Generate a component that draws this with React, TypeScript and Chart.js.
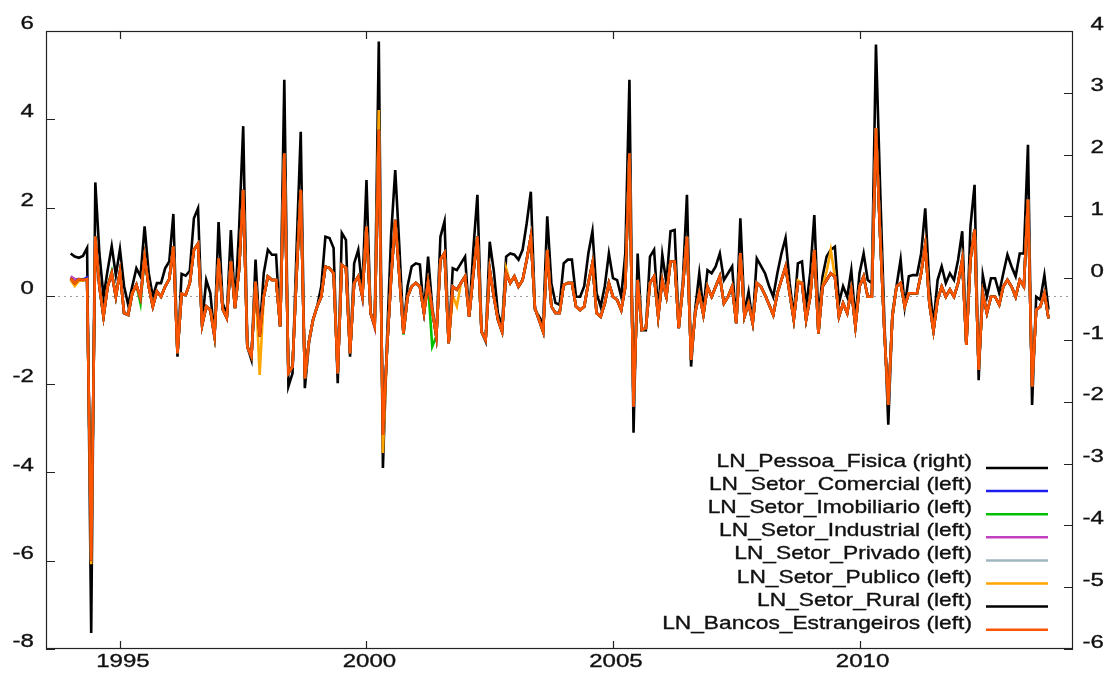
import React, { useEffect, useRef } from "react";
import { Chart, registerables } from "chart.js";

Chart.register(...registerables);

// ---- time axis: monthly observations starting Jan 1994 ----
const START_YEAR = 1994;
const X_MIN = 1993.5;
const X_MAX = 2014.33;

// ---- tick labels ----
const xTicks = [1995, 2000, 2005, 2010];
const leftTicks = [6, 4, 2, 0, -2, -4, -6, -8];
const rightTicks = [4, 3, 2, 1, 0, -1, -2, -3, -4, -5, -6];

// ---- series (one value per month, 1994-01 .. 2013-11) ----
const pessoaFisica = [
  0.40, 0.35, 0.33, 0.36, 0.49, -5.74, 1.55, 0.40, -0.30, 0.13, 0.52, 0.05,
  0.47, -0.13, -0.43, -0.13, 0.16, 0.03, 0.84, 0.08, -0.30, -0.08, -0.08, 0.16,
  0.27, 1.04, -1.27, 0.07, 0.04, 0.12, 0.97, 1.13, -0.73, -0.03, -0.24, -0.94,
  0.91, -0.40, -0.60, 0.78, -0.46, 0.80, 2.46, -1.11, -1.32, 0.30, -0.89, 0.08,
  0.46, 0.38, 0.38, -0.78, 3.21, -1.75, -1.54, 0.50, 2.37, -1.78, -1.05, -0.67,
  -0.46, -0.13, 0.67, 0.65, 0.49, -1.70, 0.73, 0.62, -1.27, 0.24, 0.46, -0.19,
  1.59, -0.57, -0.73, 3.83, -3.07, -1.00, 0.70, 1.75, 0.51, -0.84, -0.13, 0.19,
  0.24, 0.22, -0.57, 0.35, -0.46, -0.94, 0.67, 0.92, -1.05, 0.16, 0.13, 0.24,
  0.35, -0.62, 0.46, 1.35, -0.86, -1.02, 0.59, 0.11, -0.57, -0.78, 0.35, 0.40,
  0.38, 0.30, 0.46, 0.89, 1.40, -0.51, -0.62, -0.73, 1.00, -0.08, -0.40, -0.43,
  0.24, 0.30, 0.30, -0.30, -0.30, -0.13, 0.40, 0.76, -0.24, -0.46, -0.13, 0.40,
  0.00, -0.03, -0.30, 0.40, 3.21, -2.50, 0.40, -0.84, -0.84, 0.35, 0.46, -0.57,
  0.38, -0.08, 0.76, 0.78, -0.78, -0.05, 1.35, -1.43, -0.51, 0.08, -0.51, 0.13,
  0.08, 0.19, 0.40, -0.03, 0.08, 0.19, -0.73, 0.97, -0.57, -0.22, -0.73, 0.32,
  0.20, 0.08, -0.13, -0.30, 0.08, 0.40, 0.65, -0.08, -0.62, 0.24, 0.27, -0.46,
  0.08, 1.02, -0.67, 0.03, 0.35, 0.46, 0.51, -0.40, -0.13, -0.30, 0.13, -0.67,
  0.08, 0.40, -0.03, -0.08, 3.78, 1.50, -0.60, -2.37, -0.57, -0.13, 0.30, -0.46,
  0.03, 0.05, 0.05, 0.40, 1.13, -0.13, -0.75, -0.03, 0.19, -0.08, 0.08, -0.03,
  0.30, 0.76, -1.08, 0.84, 1.51, -1.65, 0.05, -0.30, 0.00, 0.00, -0.24, 0.08,
  0.38, 0.19, 0.03, 0.40, 0.40, 2.16, -2.05, -0.30, -0.35, 0.05, -0.51,
];

const setorComercial = [
  0.42, 0.36, 0.38, 0.37, 0.42, -6.00, 1.34, 0.21, -0.47, 0.21, 0.51, -0.02,
  0.55, -0.39, -0.43, 0.06, 0.25, -0.05, 0.89, 0.21, -0.24, 0.10, -0.02, 0.21,
  0.38, 1.12, -1.30, 0.05, 0.02, 0.29, 1.04, 1.18, -0.66, -0.24, -0.32, -0.91,
  0.85, -0.30, -0.50, 0.78, -0.28, 0.60, 2.40, -1.15, -1.37, 0.32, -0.92, -0.02,
  0.44, 0.36, 0.36, -0.69, 3.23, -1.75, -1.60, 0.50, 2.40, -1.87, -1.03, -0.54,
  -0.24, -0.02, 0.66, 0.63, 0.51, -1.75, 0.70, 0.63, -1.30, 0.29, 0.44, -0.02,
  1.57, -0.39, -0.69, 3.76, -3.15, -1.20, 0.40, 1.72, 0.45, -0.85, -0.02, 0.21,
  0.29, 0.21, -0.39, 0.32, -0.32, -0.92, 0.82, 0.97, -1.07, 0.21, 0.14, 0.29,
  0.44, -0.47, 0.50, 1.34, -0.81, -1.00, 0.59, -0.02, -0.54, -0.81, 0.51, 0.29,
  0.44, 0.21, 0.36, 0.82, 1.34, -0.28, -0.54, -0.81, 1.04, -0.24, -0.39, -0.39,
  0.25, 0.29, 0.29, -0.24, -0.32, -0.24, 0.29, 0.74, -0.39, -0.47, -0.17, 0.29,
  -0.02, -0.09, -0.32, 0.21, 3.23, -2.51, 0.36, -0.77, -0.73, 0.29, 0.44, -0.47,
  0.36, -0.02, 0.78, 0.78, -0.73, 0.21, 1.34, -1.45, -0.39, 0.06, -0.43, 0.21,
  -0.02, 0.21, 0.44, -0.17, -0.02, 0.21, -0.62, 0.97, -0.47, -0.17, -0.62, 0.29,
  0.21, 0.02, -0.20, -0.43, 0.06, 0.36, 0.66, 0.06, -0.54, 0.29, 0.29, -0.54,
  -0.02, 1.04, -0.85, 0.21, 0.36, 0.51, 0.44, -0.47, -0.17, -0.39, 0.14, -0.69,
  0.21, 0.44, -0.02, -0.02, 3.80, 1.40, -0.70, -2.47, -0.47, 0.21, 0.29, -0.24,
  0.06, 0.06, 0.06, 0.51, 1.16, -0.17, -0.79, -0.09, 0.21, -0.02, 0.14, -0.02,
  0.29, 0.82, -1.11, 0.82, 1.50, -1.68, 0.06, -0.39, -0.02, -0.02, -0.20, 0.21,
  0.36, 0.21, -0.02, 0.36, 0.21, 2.18, -2.05, -0.32, -0.24, 0.06, -0.51,
];

const setorImobiliario = [
  0.38, 0.33, 0.37, 0.36, 0.36, -6.00, 1.34, 0.21, -0.47, 0.21, 0.55, -0.02,
  0.55, -0.39, -0.43, 0.06, 0.25, -0.17, 0.89, 0.21, -0.24, 0.10, -0.02, 0.21,
  0.38, 1.12, -1.30, 0.05, 0.02, 0.29, 1.04, 1.18, -0.66, -0.24, -0.32, -0.91,
  0.85, -0.30, -0.50, 0.78, -0.28, 0.60, 2.40, -1.15, -1.37, 0.32, -0.92, -0.02,
  0.44, 0.36, 0.36, -0.69, 3.23, -1.75, -1.60, 0.50, 2.40, -1.87, -1.03, -0.54,
  -0.24, -0.02, 0.66, 0.63, 0.51, -1.75, 0.70, 0.63, -1.30, 0.29, 0.44, -0.02,
  1.57, -0.39, -0.69, 3.76, -3.15, -1.20, 0.40, 1.72, 0.45, -0.88, -0.02, 0.21,
  0.29, 0.21, -0.39, 0.25, -1.15, -0.92, 0.82, 0.97, -1.07, 0.21, 0.14, 0.29,
  0.44, -0.47, 0.50, 1.34, -0.81, -1.00, 0.59, -0.02, -0.54, -0.81, 0.51, 0.29,
  0.44, 0.21, 0.36, 0.82, 1.34, -0.28, -0.54, -0.81, 1.04, -0.24, -0.39, -0.39,
  0.25, 0.29, 0.29, -0.24, -0.32, -0.24, 0.29, 0.74, -0.39, -0.47, -0.17, 0.29,
  -0.02, -0.09, -0.32, 0.21, 3.23, -2.51, 0.36, -0.77, -0.73, 0.29, 0.44, -0.47,
  0.36, -0.02, 0.78, 0.78, -0.73, 0.21, 1.34, -1.45, -0.39, 0.06, -0.43, 0.21,
  -0.02, 0.21, 0.44, -0.17, -0.02, 0.21, -0.62, 0.97, -0.47, -0.17, -0.62, 0.29,
  0.21, 0.02, -0.20, -0.43, 0.06, 0.36, 0.66, 0.06, -0.54, 0.29, 0.29, -0.54,
  -0.02, 1.04, -0.85, 0.21, 0.36, 0.51, 0.44, -0.47, -0.17, -0.39, 0.14, -0.69,
  0.21, 0.44, -0.02, -0.02, 3.80, 1.40, -0.70, -2.47, -0.47, 0.21, 0.29, -0.24,
  0.06, 0.06, 0.06, 0.51, 1.16, -0.17, -0.79, -0.09, 0.21, -0.02, 0.14, -0.02,
  0.29, 0.82, -1.11, 0.82, 1.50, -1.68, 0.06, -0.39, -0.02, -0.02, -0.20, 0.21,
  0.36, 0.21, -0.02, 0.36, 0.21, 2.18, -2.05, -0.32, -0.24, 0.06, -0.51,
];

const setorIndustrial = [
  0.44, 0.38, 0.36, 0.35, 0.37, -6.00, 1.34, 0.21, -0.47, 0.21, 0.51, -0.02,
  0.55, -0.39, -0.43, 0.06, 0.25, -0.05, 0.89, 0.21, -0.24, 0.10, -0.02, 0.21,
  0.38, 1.12, -1.30, 0.05, 0.02, 0.29, 1.04, 1.18, -0.66, -0.24, -0.32, -0.95,
  0.85, -0.30, -0.50, 0.78, -0.28, 0.60, 2.40, -1.15, -1.37, 0.32, -0.92, -0.02,
  0.44, 0.36, 0.36, -0.69, 3.23, -1.75, -1.60, 0.50, 2.40, -1.87, -1.03, -0.54,
  -0.24, -0.02, 0.66, 0.63, 0.51, -1.75, 0.70, 0.63, -1.30, 0.29, 0.44, -0.05,
  1.57, -0.39, -0.72, 3.76, -3.15, -1.20, 0.40, 1.72, 0.45, -0.85, -0.02, 0.21,
  0.29, 0.21, -0.39, 0.32, -0.32, -0.92, 0.82, 0.97, -1.07, 0.21, 0.14, 0.29,
  0.44, -0.47, 0.50, 1.34, -0.81, -1.00, 0.59, -0.02, -0.54, -0.81, 0.51, 0.29,
  0.44, 0.21, 0.36, 0.82, 1.34, -0.28, -0.54, -0.81, 1.04, -0.24, -0.39, -0.39,
  0.25, 0.29, 0.29, -0.24, -0.32, -0.24, 0.29, 0.74, -0.39, -0.47, -0.17, 0.29,
  -0.02, -0.09, -0.32, 0.21, 3.23, -2.51, 0.36, -0.77, -0.73, 0.29, 0.44, -0.47,
  0.36, -0.02, 0.78, 0.78, -0.73, 0.21, 1.34, -1.45, -0.39, 0.06, -0.43, 0.21,
  -0.02, 0.21, 0.44, -0.17, -0.02, 0.21, -0.62, 0.97, -0.47, -0.17, -0.62, 0.29,
  0.21, 0.02, -0.20, -0.43, 0.06, 0.36, 0.66, 0.06, -0.54, 0.29, 0.29, -0.54,
  -0.02, 1.04, -0.85, 0.21, 0.36, 0.51, 0.44, -0.47, -0.17, -0.39, 0.14, -0.69,
  0.21, 0.44, -0.02, -0.02, 3.80, 1.40, -0.70, -2.47, -0.47, 0.21, 0.29, -0.24,
  0.06, 0.06, 0.06, 0.51, 1.16, -0.17, -0.79, -0.09, 0.21, -0.02, 0.14, -0.02,
  0.29, 0.82, -1.11, 0.82, 1.50, -1.68, 0.06, -0.39, -0.02, -0.02, -0.20, 0.21,
  0.36, 0.21, -0.02, 0.36, 0.21, 2.18, -2.05, -0.32, -0.24, 0.06, -0.51,
];

const setorPrivado = [
  0.41, 0.31, 0.38, 0.36, 0.38, -6.00, 1.34, 0.21, -0.47, 0.21, 0.51, -0.02,
  0.55, -0.39, -0.43, 0.06, 0.25, -0.05, 0.89, 0.21, -0.24, 0.10, -0.02, 0.21,
  0.38, 1.12, -1.30, 0.05, 0.02, 0.29, 1.04, 1.18, -0.66, -0.24, -0.32, -0.91,
  0.85, -0.30, -0.50, 0.78, -0.28, 0.60, 2.40, -1.15, -1.37, 0.32, -0.92, -0.02,
  0.44, 0.36, 0.36, -0.69, 3.23, -1.75, -1.60, 0.50, 2.40, -1.87, -1.03, -0.54,
  -0.24, -0.02, 0.66, 0.63, 0.51, -1.75, 0.70, 0.63, -1.30, 0.29, 0.44, -0.02,
  1.57, -0.39, -0.69, 3.76, -3.15, -1.20, 0.40, 1.72, 0.45, -0.85, -0.02, 0.21,
  0.29, 0.21, -0.39, 0.32, -0.32, -0.92, 0.82, 0.97, -1.07, 0.21, 0.14, 0.29,
  0.44, -0.47, 0.50, 1.34, -0.81, -1.00, 0.59, -0.02, -0.54, -0.81, 0.51, 0.29,
  0.44, 0.21, 0.36, 0.82, 1.34, -0.28, -0.54, -0.81, 1.04, -0.24, -0.39, -0.39,
  0.25, 0.29, 0.29, -0.24, -0.32, -0.24, 0.29, 0.74, -0.39, -0.47, -0.17, 0.29,
  -0.02, -0.09, -0.32, 0.21, 3.23, -2.51, 0.36, -0.77, -0.73, 0.29, 0.44, -0.47,
  0.36, -0.02, 0.78, 0.78, -0.73, 0.21, 1.34, -1.45, -0.39, 0.06, -0.43, 0.21,
  -0.02, 0.21, 0.44, -0.17, -0.02, 0.21, -0.62, 0.97, -0.47, -0.17, -0.62, 0.29,
  0.21, 0.02, -0.20, -0.43, 0.06, 0.36, 0.66, 0.06, -0.54, 0.29, 0.29, -0.54,
  -0.02, 1.04, -0.85, 0.21, 0.36, 0.51, 0.44, -0.47, -0.17, -0.39, 0.14, -0.69,
  0.21, 0.44, -0.02, -0.02, 3.80, 1.40, -0.70, -2.47, -0.47, 0.21, 0.29, -0.24,
  0.06, 0.06, 0.06, 0.51, 1.16, -0.17, -0.79, -0.09, 0.21, -0.02, 0.14, -0.02,
  0.29, 0.82, -1.11, 0.82, 1.50, -1.68, 0.06, -0.39, -0.02, -0.02, -0.20, 0.21,
  0.36, 0.21, -0.02, 0.36, 0.21, 2.18, -2.05, -0.32, -0.24, 0.06, -0.51,
];

const setorPublico = [
  0.36, 0.22, 0.34, 0.35, 0.36, -6.08, 1.34, 0.21, -0.47, 0.21, 0.51, -0.02,
  0.55, -0.39, -0.43, 0.06, 0.25, -0.05, 0.89, 0.21, -0.24, 0.10, -0.02, 0.21,
  0.38, 1.12, -1.30, 0.05, 0.02, 0.29, 1.04, 1.18, -0.66, -0.24, -0.32, -0.91,
  0.85, -0.30, -0.50, 0.78, -0.28, 0.60, 2.40, -1.15, -1.37, 0.32, -1.79, -0.02,
  0.44, 0.36, 0.36, -0.69, 3.23, -1.75, -1.60, 0.50, 2.40, -1.87, -1.03, -0.54,
  -0.24, -0.02, 0.66, 0.63, 0.51, -1.75, 0.70, 0.63, -1.30, 0.29, 0.44, -0.02,
  1.57, -0.39, -0.69, 4.21, -3.56, -1.20, 0.40, 1.72, 0.45, -0.85, -0.02, 0.21,
  0.29, 0.21, -0.39, 0.32, -0.32, -0.92, 0.82, 0.97, -1.07, 0.00, -0.24, 0.29,
  0.44, -0.47, 0.50, 1.34, -0.81, -1.00, 0.59, -0.02, -0.54, -0.81, 0.62, 0.29,
  0.44, 0.21, 0.36, 0.82, 1.34, -0.28, -0.54, -0.81, 1.04, -0.24, -0.39, -0.39,
  0.25, 0.29, 0.29, -0.24, -0.32, -0.24, 0.29, 0.74, -0.39, -0.47, -0.17, 0.29,
  -0.02, -0.09, -0.32, 0.21, 3.23, -2.51, 0.36, -0.77, -0.73, 0.29, 0.44, -0.47,
  0.36, -0.02, 0.78, 0.78, -0.73, 0.21, 1.34, -1.45, -0.39, 0.06, -0.43, 0.21,
  -0.02, 0.21, 0.44, -0.17, -0.02, 0.21, -0.62, 0.97, -0.47, -0.17, -0.62, 0.29,
  0.21, 0.02, -0.20, -0.43, 0.06, 0.36, 0.66, 0.06, -0.54, 0.35, 0.29, -0.54,
  -0.02, 1.04, -0.85, 0.21, 0.55, 1.04, 0.44, -0.47, -0.17, -0.39, 0.14, -0.69,
  0.21, 0.44, -0.02, -0.02, 3.80, 1.40, -0.70, -2.47, -0.47, 0.21, 0.29, -0.24,
  0.06, 0.06, 0.06, 0.51, 1.16, -0.17, -0.79, -0.09, 0.21, -0.02, 0.14, -0.02,
  0.29, 0.82, -1.11, 0.82, 1.50, -1.68, 0.06, -0.39, -0.02, -0.02, -0.20, 0.21,
  0.36, 0.21, -0.02, 0.36, 0.21, 2.18, -2.05, -0.32, -0.24, 0.06, -0.51,
];

const setorRural = [
  0.40, 0.29, 0.38, 0.36, 0.38, -6.00, 1.34, 0.21, -0.47, 0.21, 0.51, -0.02,
  0.55, -0.39, -0.43, 0.06, 0.25, -0.05, 0.89, 0.21, -0.24, 0.10, -0.02, 0.21,
  0.38, 1.12, -1.30, 0.05, 0.02, 0.29, 1.04, 1.18, -0.66, -0.24, -0.32, -0.91,
  0.85, -0.30, -0.50, 0.78, -0.28, 0.60, 2.40, -1.15, -1.37, 0.32, -0.92, -0.02,
  0.44, 0.36, 0.36, -0.69, 3.23, -1.75, -1.60, 0.50, 2.40, -1.87, -1.03, -0.54,
  -0.24, -0.02, 0.66, 0.63, 0.51, -1.75, 0.70, 0.63, -1.30, 0.29, 0.44, -0.02,
  1.57, -0.39, -0.69, 3.76, -3.15, -1.20, 0.40, 1.72, 0.45, -0.85, -0.02, 0.21,
  0.29, 0.21, -0.39, 0.32, -0.32, -0.92, 0.82, 0.97, -1.07, 0.21, 0.14, 0.29,
  0.44, -0.47, 0.50, 1.34, -0.81, -1.00, 0.59, -0.02, -0.54, -0.81, 0.51, 0.29,
  0.44, 0.21, 0.36, 0.82, 1.34, -0.28, -0.54, -0.81, 1.04, -0.24, -0.39, -0.39,
  0.25, 0.29, 0.29, -0.24, -0.32, -0.24, 0.29, 0.74, -0.39, -0.47, -0.17, 0.29,
  -0.02, -0.09, -0.32, 0.21, 3.23, -2.51, 0.36, -0.77, -0.73, 0.29, 0.44, -0.47,
  0.36, -0.02, 0.78, 0.78, -0.73, 0.21, 1.34, -1.45, -0.39, 0.06, -0.43, 0.21,
  -0.02, 0.21, 0.44, -0.17, -0.02, 0.21, -0.62, 0.97, -0.47, -0.17, -0.62, 0.29,
  0.21, 0.02, -0.20, -0.43, 0.06, 0.36, 0.66, 0.06, -0.54, 0.29, 0.29, -0.54,
  -0.02, 1.04, -0.85, 0.21, 0.36, 0.51, 0.44, -0.47, -0.17, -0.39, 0.14, -0.69,
  0.21, 0.44, -0.02, -0.02, 3.80, 1.40, -0.70, -2.47, -0.47, 0.21, 0.29, -0.24,
  0.06, 0.06, 0.06, 0.51, 1.16, -0.17, -0.79, -0.09, 0.21, -0.02, 0.14, -0.02,
  0.29, 0.82, -1.11, 0.82, 1.50, -1.68, 0.06, -0.39, -0.02, -0.02, -0.20, 0.21,
  0.36, 0.21, -0.02, 0.36, 0.21, 2.18, -2.05, -0.32, -0.24, 0.06, -0.51,
];

const bancosEstrangeiros = [
  0.40, 0.29, 0.38, 0.36, 0.38, -6.00, 1.34, 0.21, -0.47, 0.21, 0.51, -0.02,
  0.55, -0.39, -0.43, 0.06, 0.25, -0.05, 0.89, 0.21, -0.24, 0.10, -0.02, 0.21,
  0.38, 1.12, -1.30, 0.05, 0.02, 0.29, 1.04, 1.18, -0.66, -0.24, -0.32, -0.91,
  0.85, -0.30, -0.50, 0.78, -0.28, 0.60, 2.40, -1.15, -1.37, 0.32, -0.92, -0.02,
  0.44, 0.36, 0.36, -0.69, 3.23, -1.75, -1.60, 0.50, 2.40, -1.87, -1.03, -0.54,
  -0.24, -0.02, 0.66, 0.63, 0.51, -1.75, 0.70, 0.63, -1.30, 0.29, 0.44, -0.02,
  1.57, -0.39, -0.69, 3.76, -3.15, -1.20, 0.40, 1.72, 0.45, -0.85, -0.02, 0.21,
  0.29, 0.21, -0.39, 0.32, -0.32, -0.92, 0.82, 0.97, -1.07, 0.21, 0.14, 0.29,
  0.44, -0.47, 0.50, 1.34, -0.81, -1.00, 0.59, -0.02, -0.54, -0.81, 0.51, 0.29,
  0.44, 0.21, 0.36, 0.82, 1.34, -0.28, -0.54, -0.81, 1.04, -0.24, -0.39, -0.39,
  0.25, 0.29, 0.29, -0.24, -0.32, -0.24, 0.29, 0.74, -0.39, -0.47, -0.17, 0.29,
  -0.02, -0.09, -0.32, 0.21, 3.23, -2.51, 0.36, -0.77, -0.73, 0.29, 0.44, -0.47,
  0.36, -0.02, 0.78, 0.78, -0.73, 0.21, 1.34, -1.45, -0.39, 0.06, -0.43, 0.21,
  -0.02, 0.21, 0.44, -0.17, -0.02, 0.21, -0.62, 0.97, -0.47, -0.17, -0.62, 0.29,
  0.21, 0.02, -0.20, -0.43, 0.06, 0.36, 0.66, 0.06, -0.54, 0.29, 0.29, -0.54,
  -0.02, 1.04, -0.85, 0.21, 0.36, 0.51, 0.44, -0.47, -0.17, -0.39, 0.14, -0.69,
  0.21, 0.44, -0.02, -0.02, 3.80, 1.40, -0.70, -2.47, -0.47, 0.21, 0.29, -0.24,
  0.06, 0.06, 0.06, 0.51, 1.16, -0.17, -0.79, -0.09, 0.21, -0.02, 0.14, -0.02,
  0.29, 0.82, -1.11, 0.82, 1.50, -1.68, 0.06, -0.39, -0.02, -0.02, -0.20, 0.21,
  0.36, 0.21, -0.02, 0.36, 0.21, 2.18, -2.05, -0.32, -0.24, 0.06, -0.51,
];

const seriesLabels = [
  "LN_Pessoa_Fisica (right)",
  "LN_Setor_Comercial (left)",
  "LN_Setor_Imobiliario (left)",
  "LN_Setor_Industrial (left)",
  "LN_Setor_Privado (left)",
  "LN_Setor_Publico (left)",
  "LN_Setor_Rural (left)",
  "LN_Bancos_Estrangeiros (left)",
];
const seriesValues = [
  pessoaFisica,
  setorComercial,
  setorImobiliario,
  setorIndustrial,
  setorPrivado,
  setorPublico,
  setorRural,
  bancosEstrangeiros,
];
const seriesAxes = ["y2", "y", "y", "y", "y", "y", "y", "y"];
const seriesColors = [
  "#000000",
  "#1c1cf0",
  "#00c000",
  "#c040c0",
  "#a0b6be",
  "#ffa500",
  "#000000",
  "#ff5500",
];

const FONT = '18.5px "Liberation Sans", Arial, Helvetica, sans-serif';

function drawText(
  ctx: CanvasRenderingContext2D,
  text: string,
  x: number,
  y: number,
  align: CanvasTextAlign,
  baseline: CanvasTextBaseline,
  stretch: number
) {
  ctx.save();
  ctx.translate(x, y);
  ctx.scale(stretch, 1);
  ctx.font = FONT;
  ctx.fillStyle = "#111";
  ctx.strokeStyle = "#111";
  ctx.lineWidth = 0.35;
  ctx.textAlign = align;
  ctx.textBaseline = baseline;
  ctx.fillText(text, 0, 0);
  ctx.strokeText(text, 0, 0);
  ctx.restore();
}

const framePlugin = {
  id: "gnuplotFrame",
  beforeDatasetsDraw(chart: any) {
    const { ctx, chartArea: a, scales } = chart;
    const y0 = Math.round(scales.y.getPixelForValue(0)) + 0.5;
    ctx.save();
    ctx.strokeStyle = "#9a9a9a";
    ctx.lineWidth = 1;
    ctx.setLineDash([2, 4]);
    ctx.beginPath();
    ctx.moveTo(a.left, y0);
    ctx.lineTo(a.right, y0);
    ctx.stroke();
    ctx.restore();
  },
  afterDraw(chart: any) {
    const { ctx, chartArea: a, scales } = chart;
    ctx.save();
    ctx.strokeStyle = "#222";
    ctx.lineWidth = 1.2;
    ctx.strokeRect(a.left + 0.5, a.top + 0.5, a.right - a.left - 1, a.bottom - a.top - 1);
    const T = 9;
    ctx.beginPath();
    for (const v of leftTicks) {
      const py = Math.round(scales.y.getPixelForValue(v)) + 0.5;
      ctx.moveTo(a.left, py);
      ctx.lineTo(a.left + T, py);
    }
    for (const v of rightTicks) {
      const py = Math.round(scales.y2.getPixelForValue(v)) + 0.5;
      ctx.moveTo(a.right, py);
      ctx.lineTo(a.right - T, py);
    }
    for (const v of xTicks) {
      const px = Math.round(scales.x.getPixelForValue(v)) + 0.5;
      ctx.moveTo(px, a.bottom);
      ctx.lineTo(px, a.bottom - 8);
      ctx.moveTo(px, a.top);
      ctx.lineTo(px, a.top + 8);
    }
    ctx.stroke();
    ctx.restore();

    for (const v of leftTicks) {
      drawText(ctx, String(v), 34, scales.y.getPixelForValue(v) - 7, "right", "middle", 1.3);
    }
    for (const v of rightTicks) {
      drawText(ctx, String(v), 1104, scales.y2.getPixelForValue(v) - 6.5, "right", "middle", 1.3);
    }
    for (const v of xTicks) {
      drawText(ctx, String(v), scales.x.getPixelForValue(v) + 3, 662, "center", "middle", 1.3);
    }

    // key (legend), bottom-right inside the plot
    const rowY0 = 468;
    const rowH = 23.1;
    seriesLabels.forEach((lab, k) => {
      const y = rowY0 + k * rowH;
      drawText(ctx, lab, 972, y - 1, "right", "alphabetic", 1.23);
      ctx.save();
      ctx.strokeStyle = seriesColors[k];
      ctx.lineWidth = 2.5;
      ctx.beginPath();
      ctx.moveTo(986, y);
      ctx.lineTo(1048, y);
      ctx.stroke();
      ctx.restore();
    });
  },
};

export default function App() {
  const canvasRef = useRef<HTMLCanvasElement | null>(null);

  useEffect(() => {
    const canvas = canvasRef.current;
    if (!canvas) return;
    const datasets = seriesValues.map((vals, k) => ({
      label: seriesLabels[k],
      data: vals.map((v, i) => ({ x: START_YEAR + i / 12, y: v })),
      borderColor: seriesColors[k],
      backgroundColor: seriesColors[k],
      borderWidth: 2.6,
      pointRadius: 0,
      fill: false,
      tension: 0,
      yAxisID: seriesAxes[k],
      order: seriesValues.length - k,
    }));

    const chart = new Chart(canvas, {
      type: "line",
      data: { datasets } as any,
      options: {
        animation: false,
        responsive: false,
        devicePixelRatio: 1,
        layout: { padding: { top: 31, left: 0, right: 0, bottom: 0 } },
        plugins: { legend: { display: false }, tooltip: { enabled: false } },
        scales: {
          x: {
            type: "linear",
            min: X_MIN,
            max: X_MAX,
            ticks: { display: false },
            grid: { display: false },
            border: { display: false },
            afterFit: (s: any) => {
              s.height = 25;
            },
          },
          y: {
            type: "linear",
            position: "left",
            min: -8,
            max: 6,
            ticks: { display: false },
            grid: { display: false },
            border: { display: false },
            afterFit: (s: any) => {
              s.width = 46;
            },
          },
          y2: {
            type: "linear",
            position: "right",
            min: -6,
            max: 4,
            ticks: { display: false },
            grid: { display: false },
            border: { display: false },
            afterFit: (s: any) => {
              s.width = 33;
            },
          },
        },
      } as any,
      plugins: [framePlugin],
    });
    return () => chart.destroy();
  }, []);

  return (
    <div style={{ position: "absolute", left: 0, top: 0, width: 1106, height: 674, background: "#fff" }}>
      <canvas ref={canvasRef} width={1106} height={674} style={{ width: 1106, height: 674 }} />
    </div>
  );
}
